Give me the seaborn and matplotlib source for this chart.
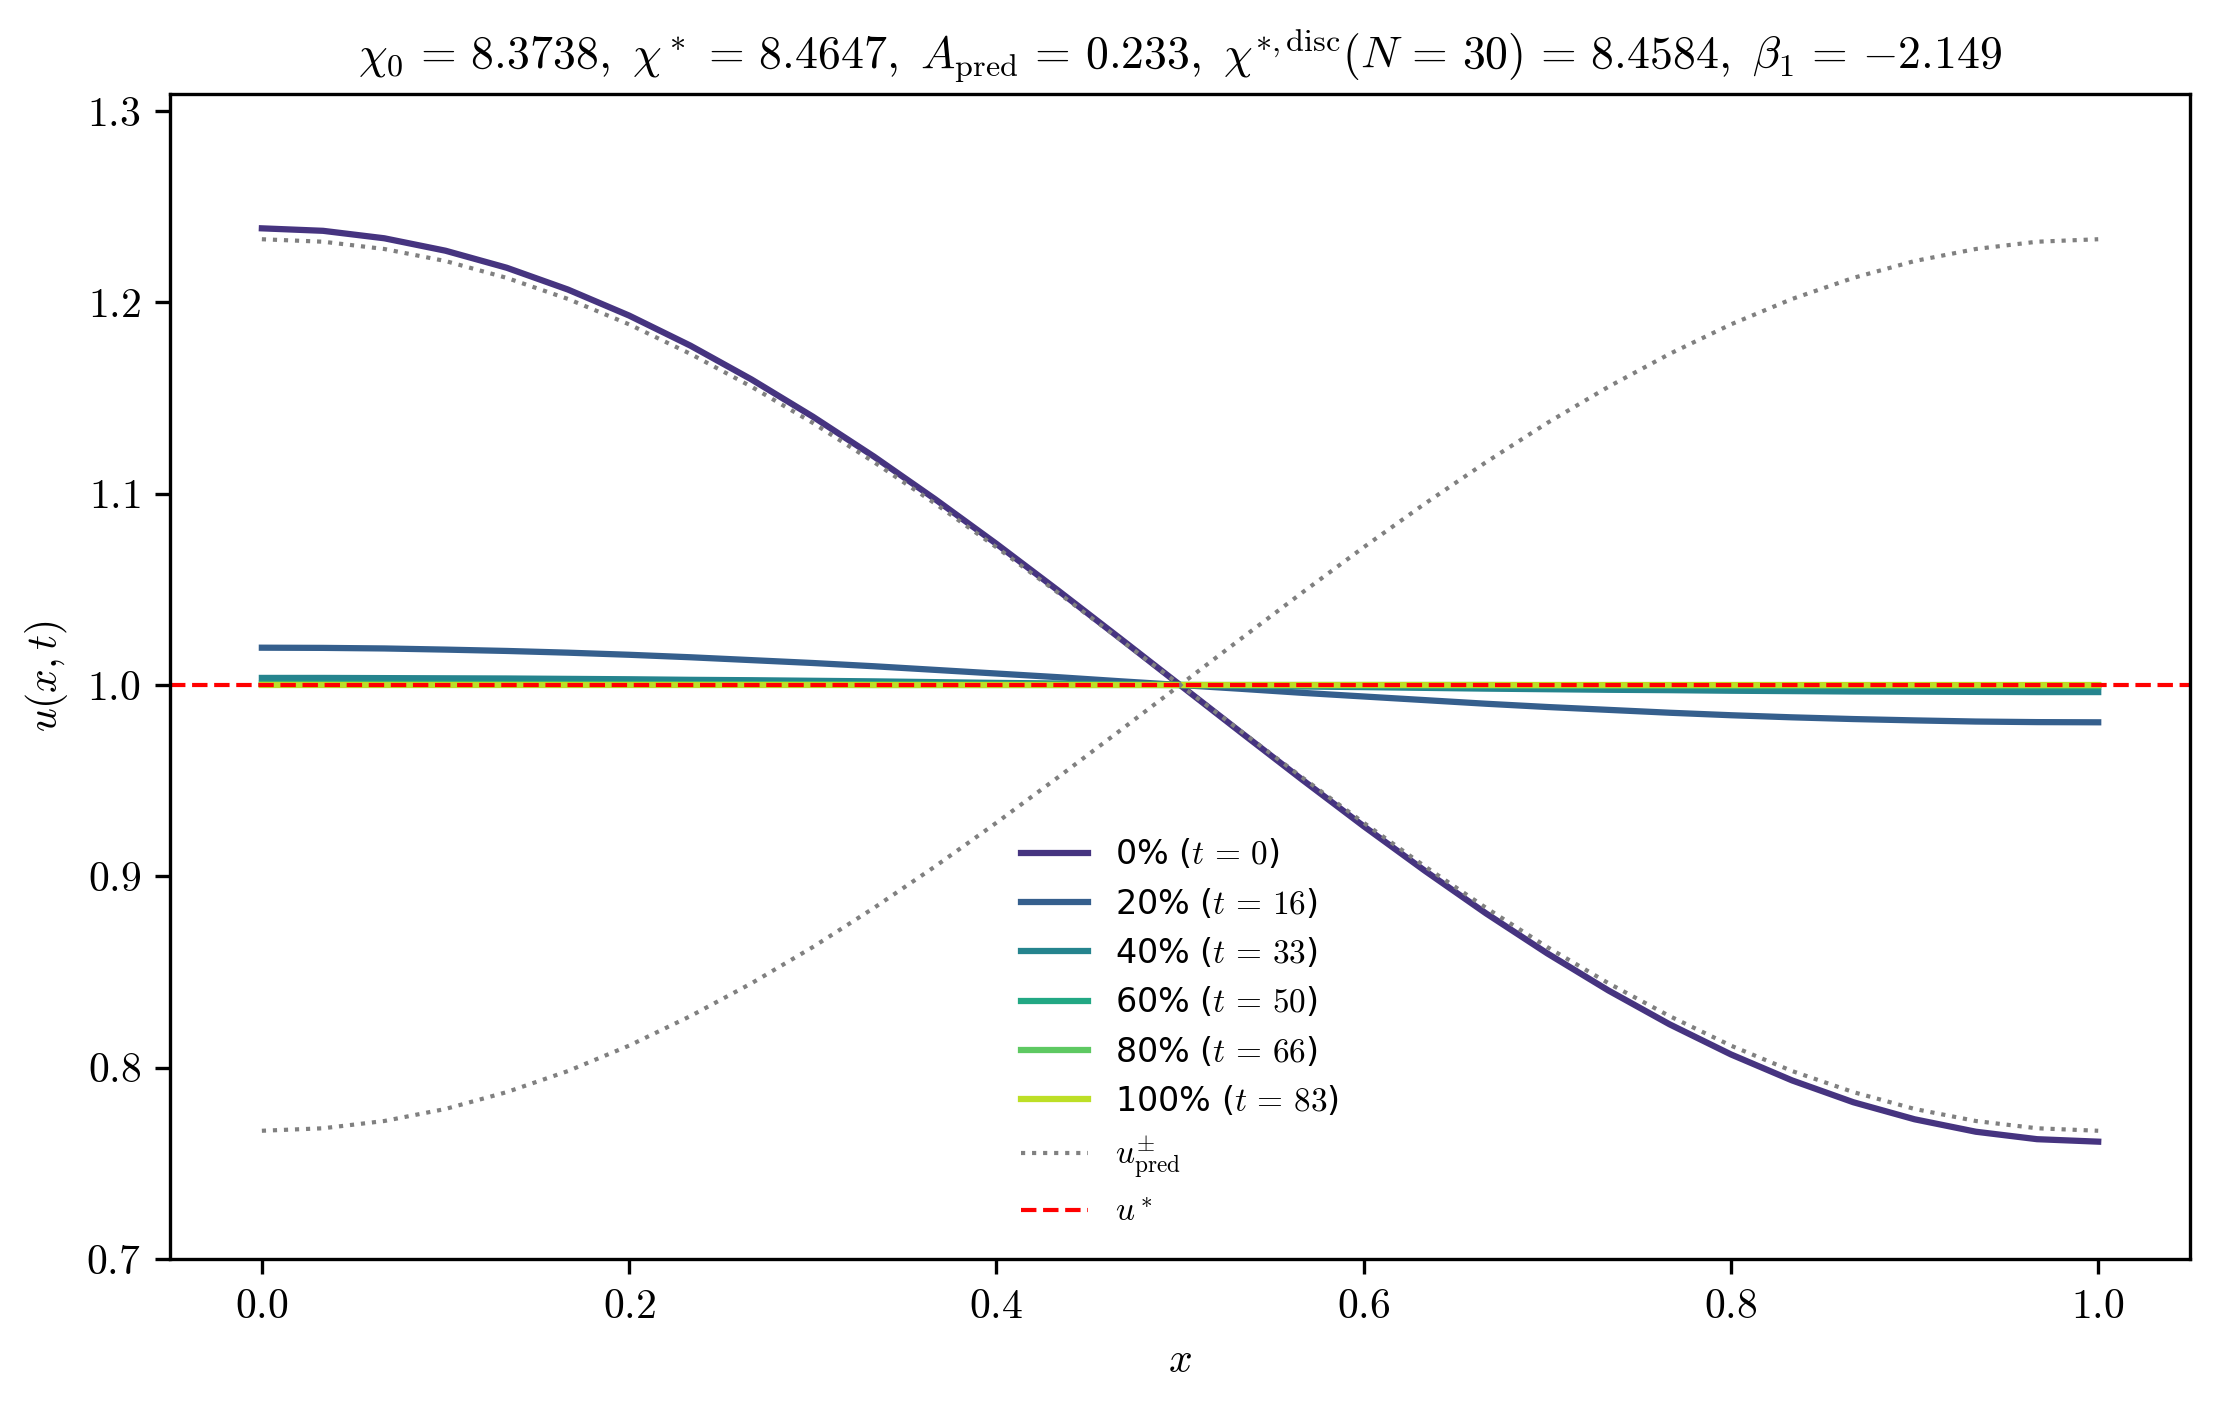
import numpy as np
import pandas as pd
import matplotlib
matplotlib.use("Agg")
import matplotlib.pyplot as plt
import seaborn as sns

# grid x_j = j/N, N = 30
x = np.linspace(0.0, 1.0, 31)

# profiles (u at 0%,20%,...,100% of the run)
u_0 = [1.2387, 1.2374, 1.2335, 1.2270, 1.2181, 1.2067, 1.1931, 1.1774, 1.1597, 1.1403,
       1.1194, 1.0971, 1.0738, 1.0496, 1.0249, 1.0000, 0.9751, 0.9504, 0.9262, 0.9029,
       0.8806, 0.8597, 0.8403, 0.8226, 0.8069, 0.7933, 0.7819, 0.7730, 0.7665, 0.7626, 0.7613]
u_20 = [1.0195, 1.0194, 1.0191, 1.0185, 1.0178, 1.0169, 1.0158, 1.0145, 1.0130, 1.0115,
        1.0098, 1.0079, 1.0060, 1.0041, 1.0020, 1.0000, 0.9980, 0.9959, 0.9940, 0.9921,
        0.9902, 0.9885, 0.9870, 0.9855, 0.9842, 0.9831, 0.9822, 0.9815, 0.9809, 0.9806, 0.9805]
u_40 = [1.0037, 1.0037, 1.0036, 1.0035, 1.0034, 1.0032, 1.0030, 1.0027, 1.0025, 1.0022,
        1.0019, 1.0015, 1.0011, 1.0008, 1.0004, 1.0000, 0.9996, 0.9992, 0.9989, 0.9985,
        0.9981, 0.9978, 0.9975, 0.9973, 0.9970, 0.9968, 0.9966, 0.9965, 0.9964, 0.9963, 0.9963]
u_60 = [1.0007, 1.0007, 1.0007, 1.0007, 1.0006, 1.0006, 1.0006, 1.0005, 1.0005, 1.0004,
        1.0004, 1.0003, 1.0002, 1.0001, 1.0001, 1.0000, 0.9999, 0.9999, 0.9998, 0.9997,
        0.9996, 0.9996, 0.9995, 0.9995, 0.9994, 0.9994, 0.9994, 0.9993, 0.9993, 0.9993, 0.9993]
u_80 = [1.0001, 1.0001, 1.0001, 1.0001, 1.0001, 1.0001, 1.0001, 1.0001, 1.0001, 1.0001,
        1.0000, 1.0000, 1.0000, 1.0000, 1.0000, 1.0000, 1.0000, 1.0000, 1.0000, 1.0000,
        1.0000, 0.9999, 0.9999, 0.9999, 0.9999, 0.9999, 0.9999, 0.9999, 0.9999, 0.9999, 0.9999]
u_100 = [1.0000, 1.0000, 1.0000, 1.0000, 1.0000, 1.0000, 1.0000, 1.0000, 1.0000, 1.0000,
         1.0000, 1.0000, 1.0000, 1.0000, 1.0000, 1.0000, 1.0000, 1.0000, 1.0000, 1.0000,
         1.0000, 1.0000, 1.0000, 1.0000, 1.0000, 1.0000, 1.0000, 1.0000, 1.0000, 1.0000, 1.0000]

# predicted profiles u_pred^+ / u_pred^-
u_pred_plus = [1.2330, 1.2317, 1.2279, 1.2216, 1.2128, 1.2018, 1.1885, 1.1731, 1.1559, 1.1370,
               1.1165, 1.0948, 1.0720, 1.0484, 1.0243, 1.0000, 0.9757, 0.9516, 0.9280, 0.9052,
               0.8835, 0.8630, 0.8441, 0.8269, 0.8115, 0.7982, 0.7872, 0.7784, 0.7721, 0.7683, 0.7670]
u_pred_minus = [0.7670, 0.7683, 0.7721, 0.7784, 0.7872, 0.7982, 0.8115, 0.8269, 0.8441, 0.8630,
                0.8835, 0.9052, 0.9280, 0.9516, 0.9757, 1.0000, 1.0243, 1.0484, 1.0720, 1.0948,
                1.1165, 1.1370, 1.1559, 1.1731, 1.1885, 1.2018, 1.2128, 1.2216, 1.2279, 1.2317, 1.2330]
u_star = 1.0

pcts = [0, 20, 40, 60, 80, 100]
times = [0, 16, 33, 50, 66, 83]
profiles = [u_0, u_20, u_40, u_60, u_80, u_100]

plt.rcParams["font.family"] = "serif"
plt.rcParams["font.serif"] = ["cmr10"]
plt.rcParams["mathtext.fontset"] = "cm"
plt.rcParams["axes.formatter.use_mathtext"] = True
plt.rcParams["axes.unicode_minus"] = False

fig, ax = plt.subplots(figsize=(7.4, 1409 / 300))
fig.subplots_adjust(left=0.0766, right=0.9865, bottom=0.1065, top=0.9334)

cols = plt.cm.viridis(np.linspace(0.15, 0.9, 6))
for p, t, u, c in zip(pcts, times, profiles, cols):
    df = pd.DataFrame({"x": x, "u": u})
    sns.lineplot(data=df, x="x", y="u", color=c, lw=1.5, ax=ax,
                 label=rf"{p}% ($t\,=\,{t}$)")

sns.lineplot(x=x, y=u_pred_plus, color="gray", ls=":", lw=1.0, ax=ax,
             label=r"$u^{\pm}_{\rm pred}$")
sns.lineplot(x=x, y=u_pred_minus, color="gray", ls=":", lw=1.0, ax=ax)
ax.axhline(u_star, color="red", ls="--", lw=1.0, label=r"$u^*$")

ax.set_ylim(0.7, 1.309)
ax.set_xlabel(r"$x$")
ax.set_ylabel(r"$u(x,t)$")
ax.set_title(r"$\chi_0\,=\,8.3738,\ \chi^*\,=\,8.4647,\ A_{\rm pred}\,=\,0.233,\ "
             r"\chi^{*,{\rm disc}}(N\,=\,30)\,=\,8.4584,\ \beta_1\,=\,{-2.149}$", fontsize=11)
ax.legend(loc="lower center", frameon=False, labelspacing=0.46,
          prop={"family": "DejaVu Sans", "size": 8})

fig.savefig("out.png", dpi=300)
